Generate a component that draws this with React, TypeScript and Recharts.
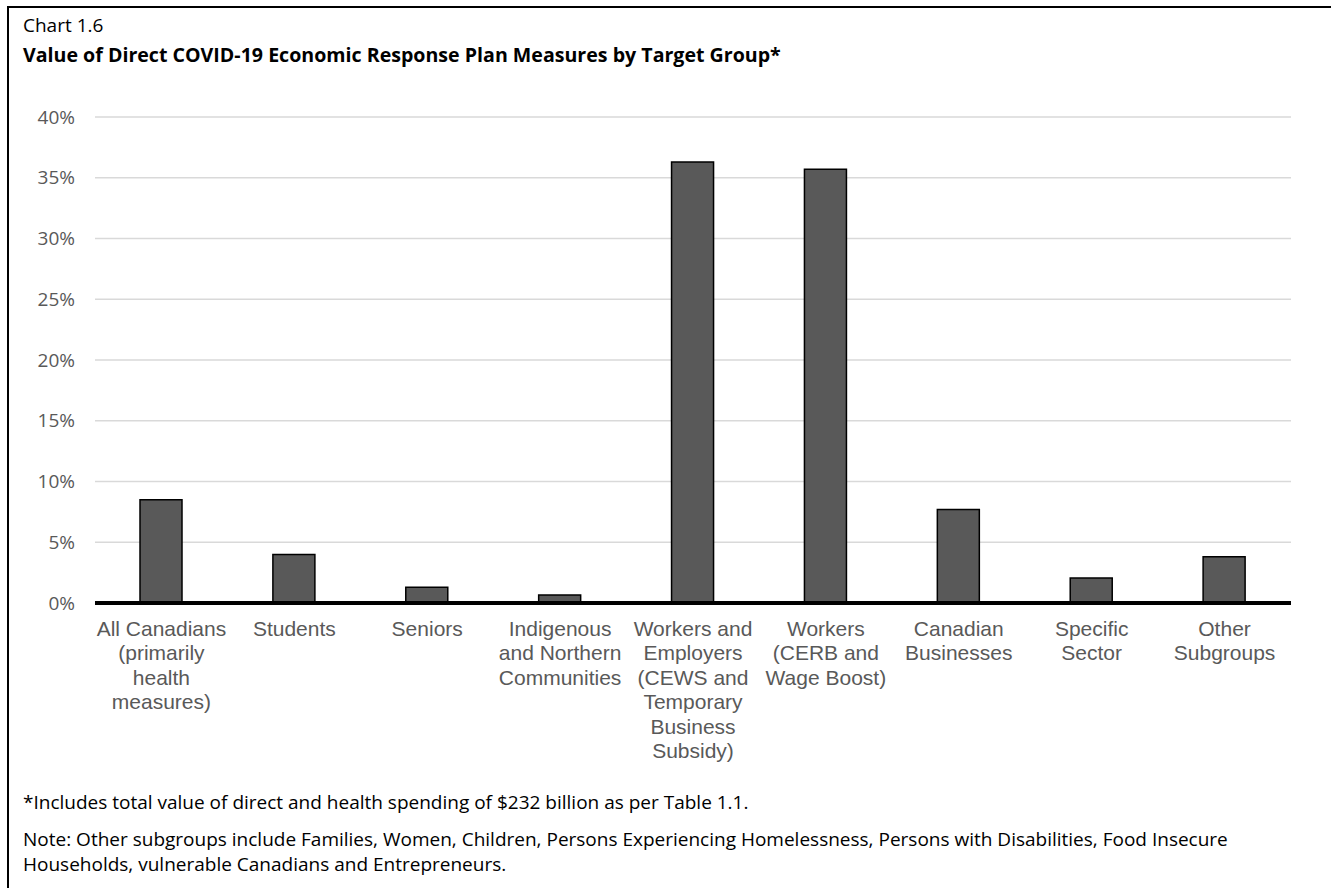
import { Bar, BarChart, CartesianGrid, XAxis, YAxis } from "recharts";

const categories = [
  "All Canadians\n(primarily\nhealth\nmeasures)",
  "Students",
  "Seniors",
  "Indigenous\nand Northern\nCommunities",
  "Workers and\nEmployers\n(CEWS and\nTemporary\nBusiness\nSubsidy)",
  "Workers\n(CERB and\nWage Boost)",
  "Canadian\nBusinesses",
  "Specific\nSector",
  "Other\nSubgroups",
];

// share of total direct measures, in %
const shares = [8.5, 4.0, 1.3, 0.65, 36.3, 35.7, 7.7, 2.05, 3.8];

const yTicks = [0, 5, 10, 15, 20, 25, 30, 35, 40];

const data = categories.map((name, i) => ({ name, share: shares[i] }));

const uiFont = "'Open Sans', 'Noto Sans', sans-serif";

function CategoryTick(props: any) {
  const { x, y, payload } = props;
  const lines = String(payload.value).split("\n");
  return (
    <text
      x={x}
      y={y}
      textAnchor="middle"
      fill="#595959"
      fontFamily="'Liberation Sans', Arial, sans-serif"
      fontSize={21}
    >
      {lines.map((line, i) => (
        <tspan key={i} x={x} dy={i === 0 ? 33 : 24.4}>
          {line}
        </tspan>
      ))}
    </text>
  );
}

export default function App() {
  return (
    <div
      style={{
        position: "fixed",
        left: 0,
        top: 0,
        width: 1331,
        height: 888,
        overflow: "hidden",
        background: "#fff",
      }}
    >
      <div
        style={{
          position: "absolute",
          left: 7,
          top: 6,
          width: 1400,
          height: 900,
          borderLeft: "2px solid #000",
          borderTop: "2px solid #000",
          boxSizing: "border-box",
          fontFamily: uiFont,
          color: "#000",
        }}
      >
        <div style={{ position: "absolute", left: 14, top: 4, fontSize: 19 }}>Chart 1.6</div>
        <div style={{ position: "absolute", left: 14, top: 33, fontSize: 19.6, fontWeight: 700 }}>
          Value of Direct COVID-19 Economic Response Plan Measures by Target Group*
        </div>

        <div style={{ position: "absolute", left: -9, top: -8 }}>
          <BarChart
            width={1320}
            height={880}
            data={data}
            margin={{ top: 117, right: 29, bottom: 117, left: 25 }}
            barCategoryGap={0}
          >
            <CartesianGrid vertical={false} stroke="#d9d9d9" strokeWidth={1.5} />
            <YAxis
              domain={[0, 40]}
              ticks={yTicks}
              width={70}
              axisLine={false}
              tickLine={false}
              tickSize={0}
              tickMargin={20}
              tickFormatter={(v) => `${v}%`}
              tick={{ fill: "#595959", fontSize: 19, fontFamily: uiFont }}
            />
            <XAxis
              dataKey="name"
              interval={0}
              tickLine={false}
              tickSize={0}
              tickMargin={0}
              height={160}
              axisLine={{ stroke: "#000", strokeWidth: 4 }}
              tick={<CategoryTick />}
            />
            <Bar
              dataKey="share"
              fill="#595959"
              stroke="#000"
              strokeWidth={1.5}
              barSize={42}
              isAnimationActive={false}
            />
          </BarChart>
        </div>

        <div
          style={{
            position: "absolute",
            left: 14,
            top: 782,
            fontSize: 19,
            lineHeight: "25px",
            whiteSpace: "nowrap",
          }}
        >
          *Includes total value of direct and health spending of $232 billion as per Table 1.1.
        </div>
        <div
          style={{
            position: "absolute",
            left: 14,
            top: 819,
            fontSize: 19,
            lineHeight: "25px",
            whiteSpace: "nowrap",
          }}
        >
          Note: Other subgroups include Families, Women, Children, Persons Experiencing Homelessness,
          Persons with Disabilities, Food Insecure
          <br />
          Households, vulnerable Canadians and Entrepreneurs.
        </div>
      </div>
    </div>
  );
}
